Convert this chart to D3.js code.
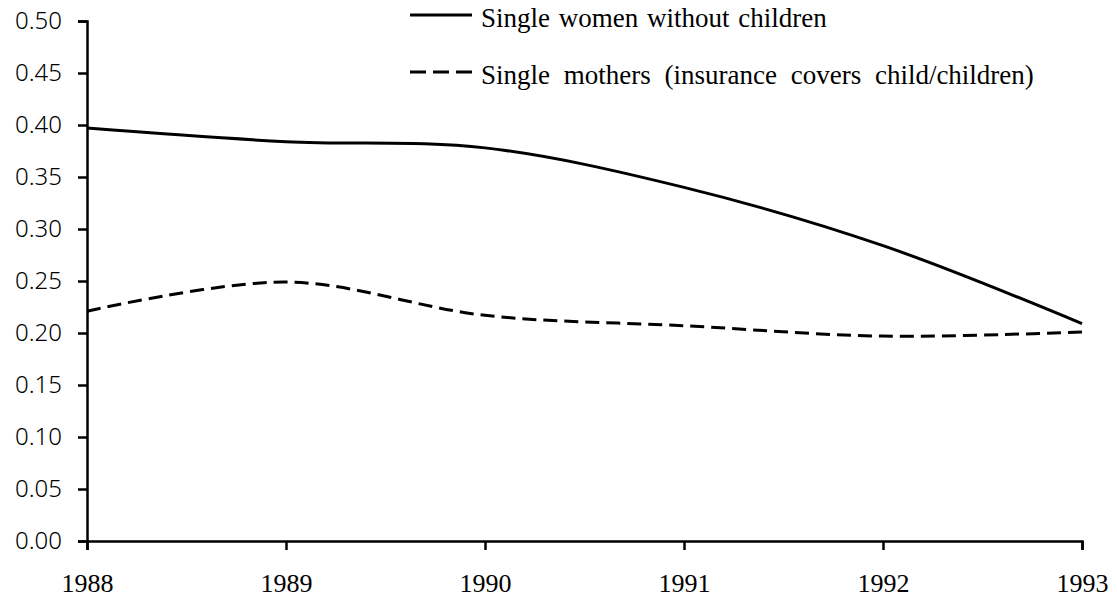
<!DOCTYPE html>
<html>
<head>
<meta charset="utf-8">
<script src="https://cdn.jsdelivr.net/npm/d3@7"></script>
<style>
	body { margin: 0; background: #fff; }
	.y.axis text { font-family: 'Noto Sans', sans-serif; font-size: 24px; font-weight: 300; fill: #000; }
	.x.axis text { font-family: 'Liberation Serif', serif; font-size: 26px; fill: #000; }
	.axis path, .axis line { stroke: #000; stroke-width: 2.5px; }
	.legend text { font-family: 'Liberation Serif', serif; font-size: 27px; fill: #000; }
	.series { fill: none; stroke: #000; stroke-width: 3px; }
</style>
</head>
<body>
<script>
// data
var years = [1988, 1989, 1990, 1991, 1992, 1993];
var singleWomen = [0.397, 0.384, 0.378, 0.340, 0.284, 0.209];
var singleMothers = [0.221, 0.249, 0.217, 0.207, 0.197, 0.201];
var yTicks = [0, 0.05, 0.10, 0.15, 0.20, 0.25, 0.30, 0.35, 0.40, 0.45, 0.50];
var seriesNames = ['Single women without children', 'Single mothers (insurance covers child/children)'];

var margin = { top: 21, right: 35, bottom: 63, left: 87 };
var width = 1117 - margin.left - margin.right;
var height = 604 - margin.top - margin.bottom;

var root = d3.select('body')
	.append('svg')
		.attr('width', 1117)
		.attr('height', 604);

var svg = root.append('g')
	.attr('transform', 'translate(' + margin.left + ',' + margin.top + ')');

var x = d3.scaleLinear()
	.domain([1988, 1993])
	.range([0, width]);

var y = d3.scaleLinear()
	.domain([0, 0.5])
	.range([height, 0]);

var yAxis = d3.axisLeft(y)
	.tickValues(yTicks)
	.tickFormat(d3.format('.2f'))
	.tickSizeOuter(0)
	.tickSize(9)
	.tickPadding(16);

svg.append('g')
	.attr('class', 'y axis')
	.call(yAxis);

var xAxis = d3.axisBottom(x)
	.tickValues(years)
	.tickFormat(d3.format('d'))
	.tickSizeOuter(0)
	.tickSize(9)
	.tickPadding(24);

svg.append('g')
	.attr('class', 'x axis')
	.attr('transform', 'translate(0,' + height + ')')
	.call(xAxis);

var line = d3.line()
	.x(function(d, i) { return x(years[i]); })
	.y(function(d) { return y(d); })
	.curve(d3.curveCatmullRom.alpha(0));

svg.append('path')
	.datum(singleWomen)
	.attr('class', 'series')
	.attr('d', line);

svg.append('path')
	.datum(singleMothers)
	.attr('class', 'series')
	.attr('stroke-dasharray', '14,7')
	.attr('d', line);

// legend, top middle
var legend = root.append('g')
	.attr('class', 'legend')
	.attr('transform', 'translate(410,27)');

var dashes = [null, '16,7'];
var wordGaps = ['2px', '7px'];
seriesNames.forEach(function(name, i) {
	var row = legend.append('g')
		.attr('transform', 'translate(0,' + (i * 57) + ')');
	row.append('line')
		.attr('class', 'series')
		.attr('x1', 0)
		.attr('x2', 62)
		.attr('y1', -12)
		.attr('y2', -12)
		.attr('stroke-dasharray', dashes[i]);
	row.append('text')
		.attr('x', 71)
		.attr('y', 0)
		.style('word-spacing', wordGaps[i])
		.text(name);
});
</script>
</body>
</html>
